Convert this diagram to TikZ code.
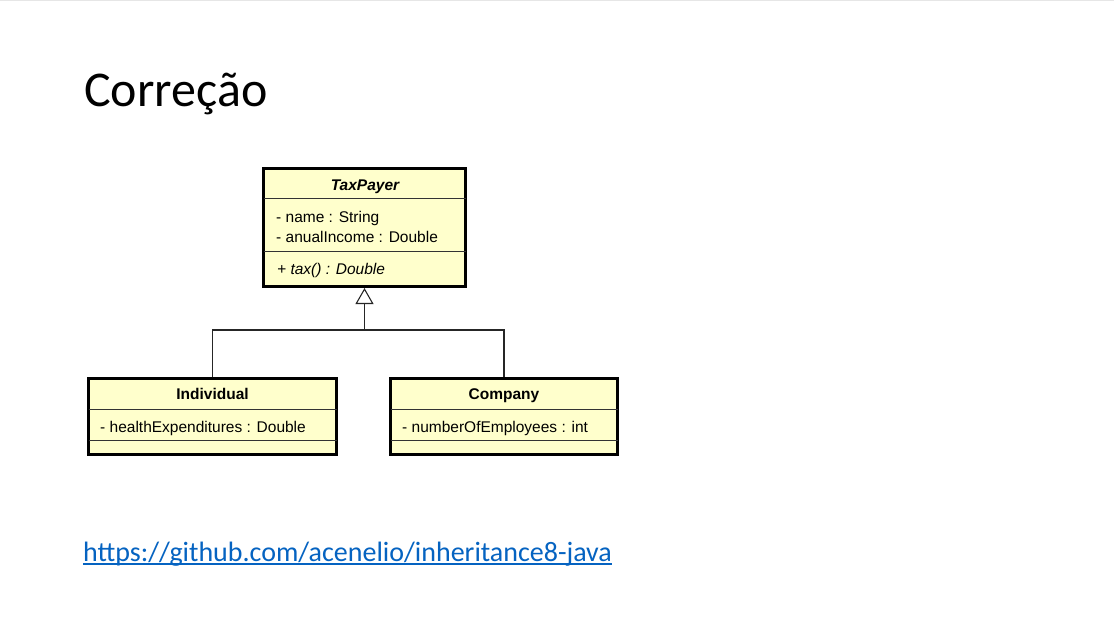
\documentclass[tikz,border=0pt]{standalone}
\usepackage{fontspec}
\setmainfont{Carlito}
\newfontfamily\umlfont{Liberation Sans}
\usetikzlibrary{arrows.meta}
\definecolor{umlfill}{HTML}{FFFFCC}
\definecolor{linkblue}{HTML}{0563C1}
\definecolor{topline}{HTML}{E6E6E6}
\begin{document}
\begin{tikzpicture}[x=1pt,y=-1pt,
  classbox/.style={draw=black, line width=3pt, fill=umlfill, inner sep=0pt, anchor=north west},
  sepline/.style={draw=black!80, line width=0.9pt},
  umltext/.style={font=\umlfont\fontsize{15.5}{17}\selectfont, inner sep=0pt, anchor=base west},
  umlhead/.style={font=\umlfont\bfseries\fontsize{15.5}{17}\selectfont, inner sep=0pt, anchor=base},
  conn/.style={draw=black!85, line width=1.2pt},
  inh/.style={conn, -{Triangle[open, length=16pt, width=18pt, line width=1.1pt, fill=white]}}
]
\useasboundingbox (0,0) rectangle (1114,623);
\fill[white] (0,0) rectangle (1114,623);
\draw[topline, line width=1.2pt] (0,0.6) -- (1114,0.6);

% title
\node[anchor=base west, inner sep=0pt, font=\fontsize{50}{54}\selectfont] (title) at (84,107) {Correção};

% TaxPayer
\node[classbox, minimum width=202pt, minimum height=118pt] (tp) at (262,167) {};
\draw[sepline] (263.5,198) -- (465.5,198);
\draw[sepline] (263.5,251) -- (465.5,251);
\node[umlhead, font=\umlfont\bfseries\itshape\fontsize{15.5}{17}\selectfont] (tpname) at (365,190) {TaxPayer};
\node[umltext] (tpa1) at (276,222) {- name : String};
\node[umltext] (tpa2) at (276,242) {- anualIncome : Double};
\node[umltext, font=\umlfont\itshape\fontsize{15.5}{17}\selectfont] (tpm1) at (277,274) {+ tax() : Double};

% Individual
\node[classbox, minimum width=248pt, minimum height=76pt] (ind) at (87,377) {};
\draw[sepline] (88.5,409) -- (336.5,409);
\draw[sepline] (88.5,440) -- (336.5,440);
\node[umlhead] (indname) at (212.5,399) {Individual};
\node[umltext] (inda1) at (100,432) {- healthExpenditures : Double};

% Company
\node[classbox, minimum width=227pt, minimum height=76pt] (comp) at (389,377) {};
\draw[sepline] (390.5,409) -- (617.5,409);
\draw[sepline] (390.5,440) -- (617.5,440);
\node[umlhead] (compname) at (504,399) {Company};
\node[umltext] (compa1) at (402,432) {- numberOfEmployees : int};

% connectors
\coordinate (jn) at (tp.south |- 0,330);
\draw[conn] (ind.north) |- (jn);
\draw[conn] (comp.north) |- (jn);
\draw[inh] (jn) -- (tp.south);

% link
\node[anchor=base west, inner sep=0pt, text=linkblue, font=\fontsize{28}{32}\selectfont] (link) at (83,561) {https://github.com/acenelio/inheritance8-java};
\draw[linkblue, line width=1.5pt] ([yshift=-3pt]link.base west) -- ([yshift=-3pt]link.base east);
\end{tikzpicture}
\end{document}
